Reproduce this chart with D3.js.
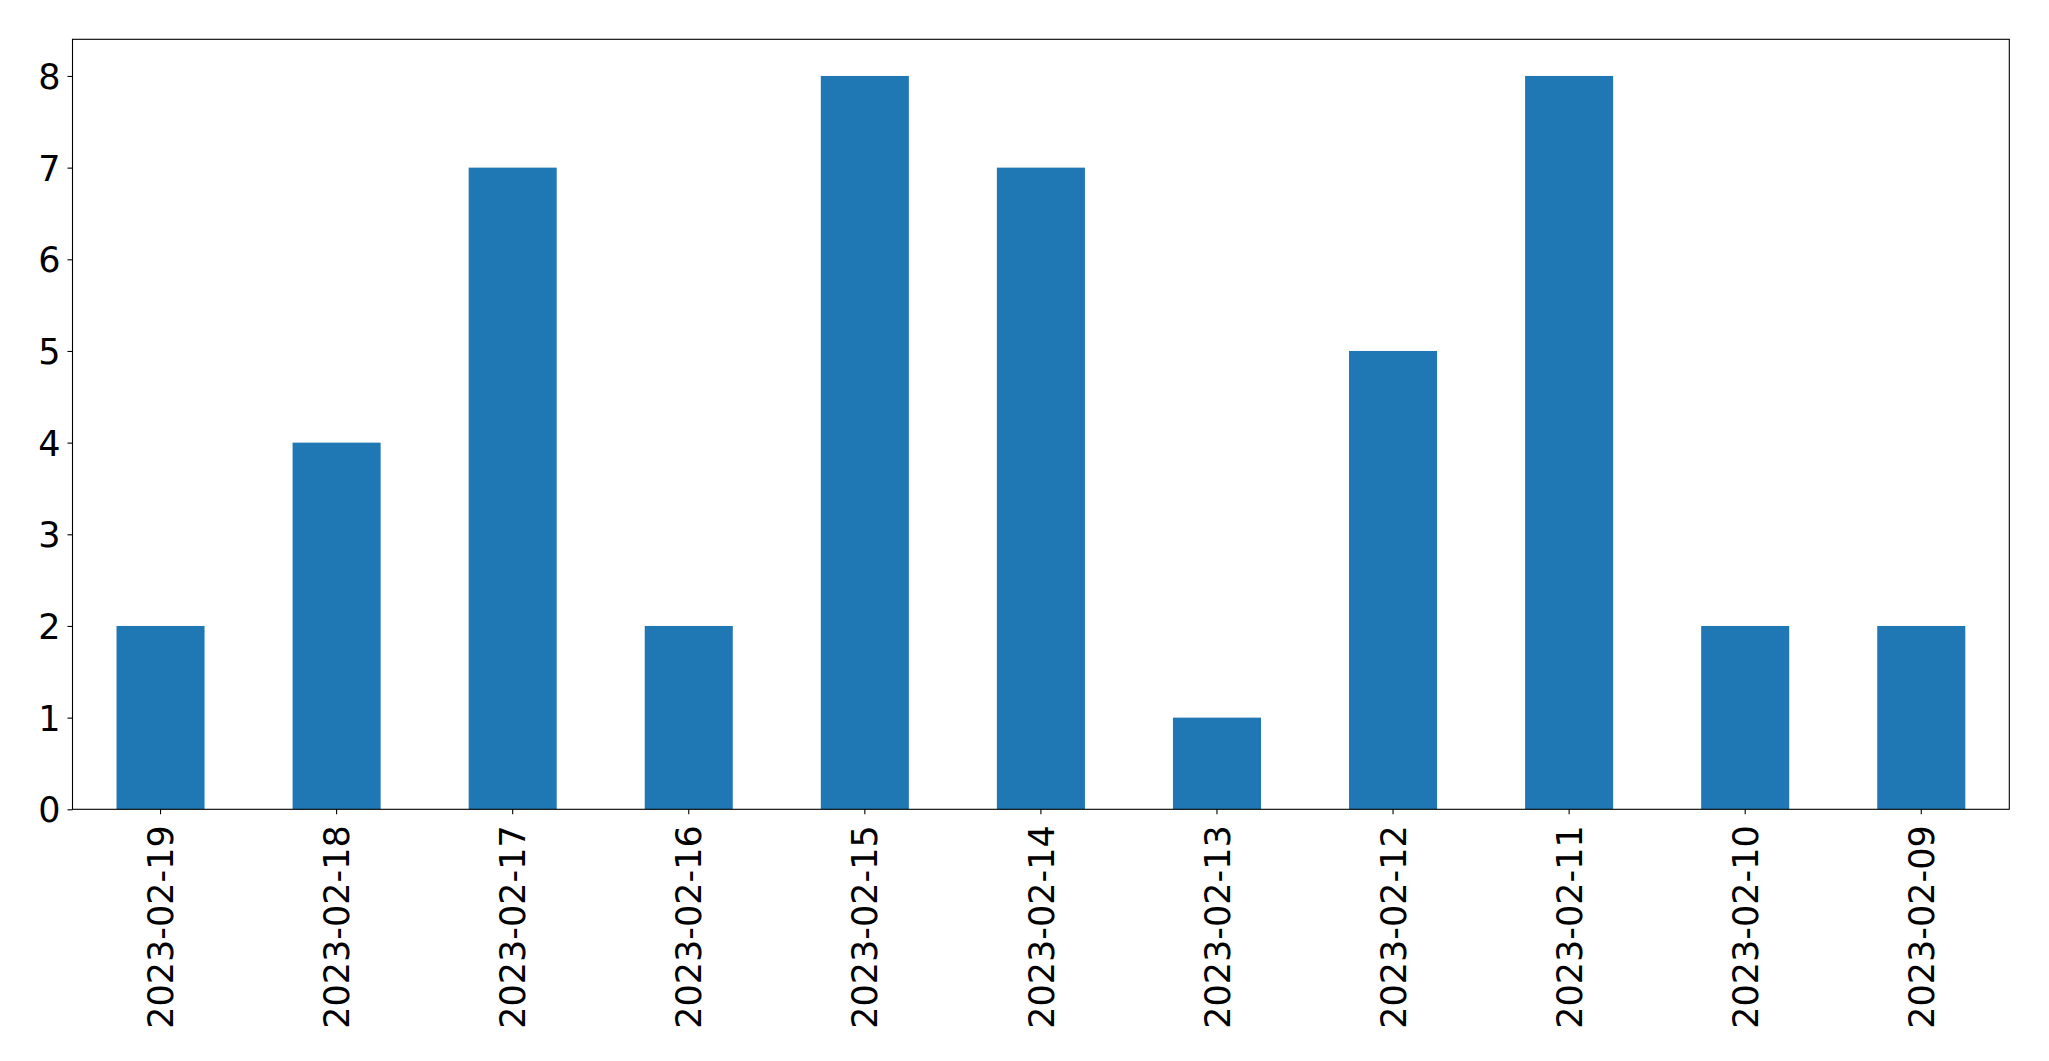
<!DOCTYPE html>
<html>
<head>
<meta charset="utf-8">
<script src="https://cdn.jsdelivr.net/npm/d3@7"></script>
<style>
  body { margin: 0; background: #fff; }
  svg text { font-family: "DejaVu Sans", sans-serif; fill: #000; }
</style>
</head>
<body>
<div id="container"></div>
<script>
// dates along the x axis, newest first
const dates = ['2023-02-19', '2023-02-18', '2023-02-17', '2023-02-16', '2023-02-15',
  '2023-02-14', '2023-02-13', '2023-02-12', '2023-02-11', '2023-02-10', '2023-02-09']
const counts = [2, 4, 7, 2, 8, 7, 1, 5, 8, 2, 2]
const yTicks = [0, 1, 2, 3, 4, 5, 6, 7, 8]

const initWidth = 2049
const initHeight = 1061
const padding = { left: 72.5, top: 39.3, right: 2049 - 2009.3, bottom: 1061 - 809.3 }
const width = initWidth - padding.left - padding.right
const height = initHeight - padding.top - padding.bottom

const svg = d3.select('#container')
  .append('svg')
  .attr('width', initWidth)
  .attr('height', initHeight)

const g = svg.append('g')
  .attr('transform', `translate(${padding.left},${padding.top})`)

// scales
const xScale = d3.scaleBand()
  .domain(dates)
  .range([0, width])
  .paddingInner(0.5)
  .paddingOuter(0.25)

const yScale = d3.scaleLinear()
  .domain([0, d3.max(counts) * 1.05])
  .range([height, 0])

// bars
g.append('g').selectAll('rect')
  .data(counts)
  .enter()
  .append('rect')
  .attr('x', (d, i) => xScale(dates[i]))
  .attr('y', d => yScale(d))
  .attr('width', xScale.bandwidth())
  .attr('height', d => height - yScale(d))
  .attr('fill', '#1f77b4')

// y axis
const yAxis = d3.axisLeft(yScale).tickValues(yTicks).tickSize(5).tickPadding(7)
const yg = g.append('g').call(yAxis)
yg.select('.domain').remove()
yg.selectAll('.tick line').attr('stroke', '#000').attr('stroke-width', 1.1)
yg.selectAll('.tick text').attr('font-size', '35px')
  .attr('font-family', '"DejaVu Sans", sans-serif')
  .attr('dy', '0.36em')

// x axis
const xAxis = d3.axisBottom(xScale).tickSize(5).tickPadding(0)
const xg = g.append('g')
  .attr('transform', `translate(0,${height})`)
  .call(xAxis)
xg.select('.domain').remove()
xg.selectAll('.tick line').attr('stroke', '#000').attr('stroke-width', 1.1)
xg.selectAll('.tick text')
  .attr('font-size', '35px')
  .attr('font-family', '"DejaVu Sans", sans-serif')
  .attr('text-anchor', 'end')
  .attr('dy', '0.36em')
  .attr('transform', 'translate(0,16) rotate(-90)')
  .attr('x', 0)
  .attr('y', 0)

// frame
g.append('rect')
  .attr('x', 0)
  .attr('y', 0)
  .attr('width', width)
  .attr('height', height)
  .attr('fill', 'none')
  .attr('stroke', '#000')
  .attr('stroke-width', 1.1)
</script>
</body>
</html>
